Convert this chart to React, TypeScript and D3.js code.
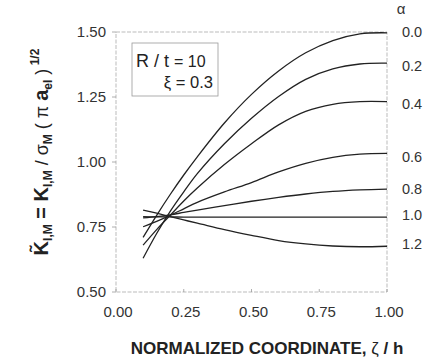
import React from "react";
import * as d3 from "d3";

const zeta = [0.1, 0.15, 0.2, 0.25, 0.3, 0.4, 0.5, 0.6, 0.7, 0.8, 0.9, 1.0];
const alphaLabels = ["0.0", "0.2", "0.4", "0.6", "0.8", "1.0", "1.2"];
const a00 = [0.71, 0.795, 0.875, 0.95, 1.02, 1.15, 1.26, 1.35, 1.42, 1.467, 1.493, 1.497];
const a02 = [0.63, 0.725, 0.81, 0.885, 0.955, 1.07, 1.168, 1.252, 1.318, 1.358, 1.377, 1.38];
const a04 = [0.68, 0.74, 0.795, 0.85, 0.9, 0.99, 1.07, 1.143, 1.195, 1.222, 1.232, 1.232];
const a06 = [0.751, 0.772, 0.795, 0.82, 0.845, 0.885, 0.921, 0.962, 0.995, 1.018, 1.03, 1.033];
const a08 = [0.785, 0.79, 0.797, 0.806, 0.815, 0.832, 0.849, 0.864, 0.877, 0.887, 0.893, 0.896];
const a10 = [0.79, 0.789, 0.789, 0.788, 0.788, 0.788, 0.788, 0.788, 0.788, 0.788, 0.788, 0.788];
const a12 = [0.815, 0.803, 0.79, 0.777, 0.765, 0.74, 0.718, 0.698, 0.685, 0.677, 0.674, 0.676];
const series = [a00, a02, a04, a06, a08, a10, a12];
const labelY = [1.5, 1.37, 1.225, 1.02, 0.895, 0.795, 0.683];
const xTicks = [0, 0.25, 0.5, 0.75, 1.0];
const yTicks = [0.5, 0.75, 1.0, 1.25, 1.5];

const W = 425, H = 363;
const L = 116, R = 387, T = 32, B = 292;

export default function App() {
  const x = d3.scaleLinear().domain([0, 1]).range([L, R]);
  const y = d3.scaleLinear().domain([0.5, 1.5]).range([B, T]);
  const line = d3
    .line<[number, number]>()
    .x((d) => x(d[0]))
    .y((d) => y(d[1]))
    .curve(d3.curveCatmullRom.alpha(0.5));
  const font = "'Liberation Sans', Arial, sans-serif";
  return (
    <svg
      width={W}
      height={H}
      style={{ position: "absolute", left: 0, top: 0, background: "#fff" }}
      fontFamily={font}
    >
      <rect x={L} y={T} width={R - L} height={B - T} fill="none" stroke="#aaa" strokeWidth={0.8} strokeDasharray="4,1.5" />
      {yTicks.map((t) => (
        <g key={"y" + t}>
          <line x1={L - 4} x2={L} y1={y(t)} y2={y(t)} stroke="#999" strokeWidth={0.8} />
          <text x={106} y={y(t)} dy="0.35em" textAnchor="end" fontSize={15} fill="#333">
            {d3.format(".2f")(t)}
          </text>
        </g>
      ))}
      {xTicks.map((t) => (
        <g key={"x" + t}>
          <line x1={x(t)} x2={x(t)} y1={B} y2={B - 3} stroke="#999" strokeWidth={0.8} />
          <text x={x(t) + 2} y={312} dy="0.35em" textAnchor="middle" fontSize={15} fill="#333">
            {d3.format(".2f")(t)}
          </text>
        </g>
      ))}
      {series.map((s, i) => (
        <path
          key={"s" + i}
          d={line(zeta.map((z, j) => [z, s[j]] as [number, number])) || ""}
          fill="none"
          stroke="#222"
          strokeWidth={1.3}
        />
      ))}
      <text x={401} y={14} textAnchor="middle" fontSize={15} fill="#333">α</text>
      {alphaLabels.map((a, i) => (
        <text key={"a" + i} x={402} y={y(labelY[i])} dy="0.35em" fontSize={14.5} fill="#333">
          {a}
        </text>
      ))}
      <rect x={132} y={43} width={86} height={53} fill="none" stroke="#999" strokeWidth={0.8} />
      <text x={136} y={67} fontSize={18} fill="#222">
        R / t <tspan fontSize={16}>= 10</tspan>
      </text>
      <text x={213} y={88} textAnchor="end" fontSize={16.5} fill="#222">
        ξ = 0.3
      </text>
      <text
        transform={`translate(48,152) rotate(-90)`}
        textAnchor="middle"
        fontSize={20}
        fontWeight="bold"
        fill="#222"
      >
        K̃<tspan fontSize={12} dy={4}>I,M</tspan>
        <tspan dy={-4}> = K</tspan>
        <tspan fontSize={12} dy={4}>I,M</tspan>
        <tspan dy={-4} fontWeight="normal" fontSize={18}> / σ</tspan>
        <tspan fontSize={12} dy={4}>M</tspan>
        <tspan dy={-4} fontWeight="normal" fontSize={18}> ( π </tspan>
        <tspan>a</tspan>
        <tspan fontSize={12} dy={4}>el</tspan>
        <tspan dy={-4} fontWeight="normal" fontSize={18}> )</tspan>
        <tspan fontSize={12} dy={-9}> 1/2</tspan>
      </text>
      <text x={267} y={348} dy="0.35em" textAnchor="middle" fontSize={17} fontWeight="bold" fill="#222">
        NORMALIZED COORDINATE, <tspan fontWeight="normal">ζ</tspan> / h
      </text>
    </svg>
  );
}
